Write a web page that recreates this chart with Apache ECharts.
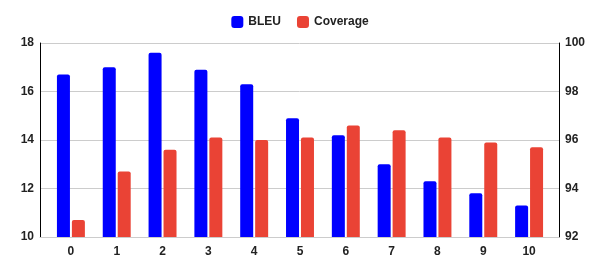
<!DOCTYPE html>
<html><head><meta charset="utf-8">
<script src="https://cdn.jsdelivr.net/npm/echarts@6/dist/echarts.min.js"></script>
<style>html,body{margin:0;padding:0;background:#fff}#c{width:600px;height:271px}</style>
</head><body><div id="c"></div>
<script>
const categories = ['0','1','2','3','4','5','6','7','8','9','10'];
const bleu = [16.7, 17.0, 17.6, 16.9, 16.3, 14.9, 14.2, 13.0, 12.3, 11.8, 11.3];
const coverage = [92.7, 94.7, 95.6, 96.1, 96.0, 96.1, 96.6, 96.4, 96.1, 95.9, 95.7];
const bleuTicks = {min:10, max:18, interval:2};
const coverageTicks = {min:92, max:100, interval:2};
const font = 'Liberation Sans, Arial, sans-serif';
const lbl = {fontFamily:font, fontWeight:'bold', fontSize:12, color:'#222'};
const chart = echarts.init(document.getElementById('c'), null, {renderer:'canvas'});
chart.setOption({
  animation:false,
  textStyle:{fontFamily:font},
  legend:{top:11, left:'center', itemWidth:12, itemHeight:12, itemGap:16,
    icon:'roundRect',
    textStyle:{fontFamily:font, fontSize:12, fontWeight:'bold', color:'#222'},
    data:['BLEU','Coverage']},
  grid:[
    {left:40, right:41, top:43, bottom:34},
    {left:48, right:48, top:43, bottom:34}
  ],
  xAxis:[
    {type:'category', gridIndex:0, data:categories,
     axisLine:{lineStyle:{color:'#ccc'}}, axisTick:{show:false}, axisLabel:{show:false}},
    {type:'category', gridIndex:1, data:categories,
     axisLine:{show:false}, axisTick:{show:false},
     axisLabel:Object.assign({margin:9}, lbl)}
  ],
  yAxis:[
    Object.assign({type:'value', gridIndex:0, position:'left',
     axisLine:{show:true, lineStyle:{color:'#000'}}, axisTick:{show:false},
     splitLine:{lineStyle:{color:'#ccc'}},
     axisLabel:Object.assign({margin:6}, lbl)}, bleuTicks),
    Object.assign({type:'value', gridIndex:0, position:'right',
     axisLine:{show:true, lineStyle:{color:'#000'}}, axisTick:{show:false},
     splitLine:{show:false},
     axisLabel:Object.assign({margin:6}, lbl)}, coverageTicks),
    Object.assign({type:'value', gridIndex:1, show:false, splitLine:{show:false}}, bleuTicks),
    Object.assign({type:'value', gridIndex:1, show:false, splitLine:{show:false}}, coverageTicks)
  ],
  series:[
    {name:'BLEU', type:'bar', xAxisIndex:1, yAxisIndex:2, data:bleu, barWidth:13, barGap:'15%',
     itemStyle:{color:'#0000ff', borderRadius:[2,2,0,0]}},
    {name:'Coverage', type:'bar', xAxisIndex:1, yAxisIndex:3, data:coverage, barWidth:13,
     itemStyle:{color:'#ea4335', borderRadius:[2,2,0,0]}}
  ]
});
</script></body></html>
